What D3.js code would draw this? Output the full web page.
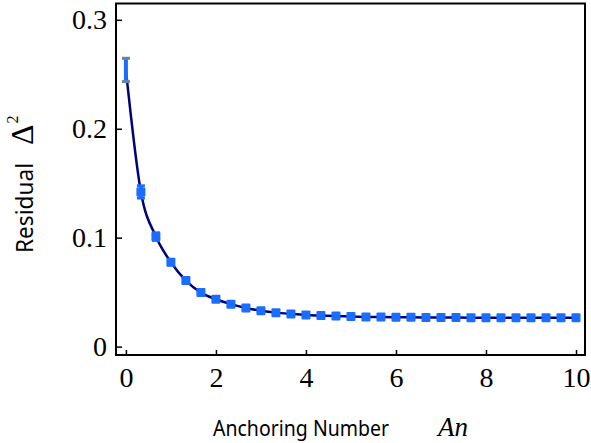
<!DOCTYPE html>
<html>
<head>
<meta charset="utf-8">
<title>Residual vs Anchoring Number</title>
<style>
  body { margin: 0; background: #fff; }
  svg { display: block; }
  .tick text { font-family: "Liberation Serif", "DejaVu Serif", serif; font-size: 28px; fill: #000; }
  .title { font-family: "Noto Sans", "Open Sans", sans-serif; fill: #000; }
  .math { font-family: "Liberation Serif", serif; }
</style>
<script src="https://cdnjs.cloudflare.com/ajax/libs/d3/7.8.5/d3.min.js"></script>
</head>
<body>
<div id="chart"></div>
<script>
// anchoring number An, step 1/3 from 0 to 10
var anchoring = d3.range(31).map(function(i) { return i / 3; });
var residual = [0.254, 0.142, 0.101, 0.0775, 0.0606, 0.0496, 0.0435, 0.039, 0.0355, 0.033,
                0.0312, 0.030, 0.029, 0.0285, 0.028, 0.0276, 0.0273, 0.0271, 0.027, 0.0269,
                0.0268, 0.0267, 0.0267, 0.0266, 0.0266, 0.0265, 0.0265, 0.0265, 0.0265, 0.0265, 0.0265];
var errors = [0.0107, 0.0056, 0.0035, 0.0025, 0.002, 0.0015, 0.0012, 0.001, 0.001, 0.0008,
              0.0008, 0.0007, 0.0007, 0.0006, 0.0006, 0.0006, 0.0006, 0.0006, 0.0006, 0.0006,
              0.0006, 0.0006, 0.0006, 0.0006, 0.0006, 0.0006, 0.0006, 0.0006, 0.0006, 0.0006, 0.0006];
var xTicks = [0, 2, 4, 6, 8, 10];
var yTicks = [0, 0.1, 0.2, 0.3];
var yTickLabels = ["0", "0.1", "0.2", "0.3"];

var width = 591, height = 443;
var svg = d3.select("#chart").append("svg")
    .attr("width", width)
    .attr("height", height);

var x = d3.scaleLinear().domain([-0.22, 10.2]).range([116, 585]);
var y = d3.scaleLinear().domain([-0.0077, 0.315]).range([355, 3.5]);

// axes with inward ticks
svg.append("g")
    .attr("transform", "translate(0," + 355 + ")")
    .call(d3.axisBottom(x).tickValues(xTicks).tickSize(-5).tickPadding(12).tickFormat(d3.format("d")))
    .call(function(g) {
        g.select(".domain").remove();
        g.selectAll(".tick line").attr("stroke", "#000").attr("stroke-width", 1.5);
        g.selectAll(".tick text").attr("dy", "0.71em");
    });

svg.append("g")
    .attr("transform", "translate(" + 116 + ",0)")
    .call(d3.axisLeft(y).tickValues(yTicks).tickSize(-6).tickPadding(9)
        .tickFormat(function(d, i) { return yTickLabels[i]; }))
    .call(function(g) {
        g.select(".domain").remove();
        g.selectAll(".tick line").attr("stroke", "#000").attr("stroke-width", 1.5);
    });

// frame
svg.append("rect")
    .attr("x", 116).attr("y", 3.5)
    .attr("width", 585 - 116).attr("height", 355 - 3.5)
    .attr("fill", "none")
    .attr("stroke", "#000")
    .attr("stroke-width", 2);

var pts = anchoring.map(function(a, i) { return { a: a, r: residual[i], e: errors[i] }; });

// fitted curve
var line = d3.line()
    .x(function(d) { return x(d.a); })
    .y(function(d) { return y(d.r); })
    .curve(d3.curveMonotoneX);

svg.append("path")
    .datum(pts)
    .attr("d", line)
    .attr("fill", "none")
    .attr("stroke", "#00007a")
    .attr("stroke-width", 2.5);

// error bars
var bars = svg.append("g").selectAll("g")
    .data(pts)
    .enter().append("g");

bars.append("line")
    .attr("x1", function(d) { return x(d.a); })
    .attr("x2", function(d) { return x(d.a); })
    .attr("y1", function(d) { return y(d.r - d.e); })
    .attr("y2", function(d) { return y(d.r + d.e); })
    .attr("stroke", "#1a6dff")
    .attr("stroke-width", 4);

bars.selectAll(".cap")
    .data(function(d) { return [d.r - d.e, d.r + d.e]; })
    .enter().append("line")
    .attr("class", "cap")
    .attr("x1", function() { return x(d3.select(this.parentNode).datum().a) - 4; })
    .attr("x2", function() { return x(d3.select(this.parentNode).datum().a) + 4; })
    .attr("y1", function(v) { return y(v); })
    .attr("y2", function(v) { return y(v); })
    .attr("stroke", function() { return d3.select(this.parentNode).datum().a === 0 ? "#6f7f9f" : "#1a6dff"; })
    .attr("stroke-width", 3);

// markers
svg.append("g").selectAll("rect")
    .data(pts.slice(1))
    .enter().append("rect")
    .attr("x", function(d) { return x(d.a) - 4.5; })
    .attr("y", function(d) { return y(d.r) - 4.5; })
    .attr("width", 9)
    .attr("height", 9)
    .attr("rx", 1)
    .attr("fill", "#1a6dff");

// axis titles
svg.append("text")
    .attr("class", "title")
    .attr("x", 213)
    .attr("y", 436)
    .attr("font-size", 22)
    .attr("textLength", 176)
    .attr("lengthAdjust", "spacingAndGlyphs")
    .text("Anchoring Number");
svg.append("text")
    .attr("class", "math")
    .attr("x", 438)
    .attr("y", 436)
    .attr("font-size", 27)
    .attr("font-style", "italic")
    .text("An");

var yt = svg.append("g").attr("transform", "translate(33,253) rotate(-90)");
yt.append("text")
    .attr("class", "title")
    .attr("font-size", 23)
    .attr("textLength", 90)
    .attr("lengthAdjust", "spacingAndGlyphs")
    .text("Residual");
var yd = yt.append("text")
    .attr("class", "math")
    .attr("x", 108)
    .attr("font-size", 32);
yd.append("tspan").text("\u0394");
yd.append("tspan").attr("font-size", 16).attr("dy", -15).attr("dx", 1).text("2");
</script>
</body>
</html>
